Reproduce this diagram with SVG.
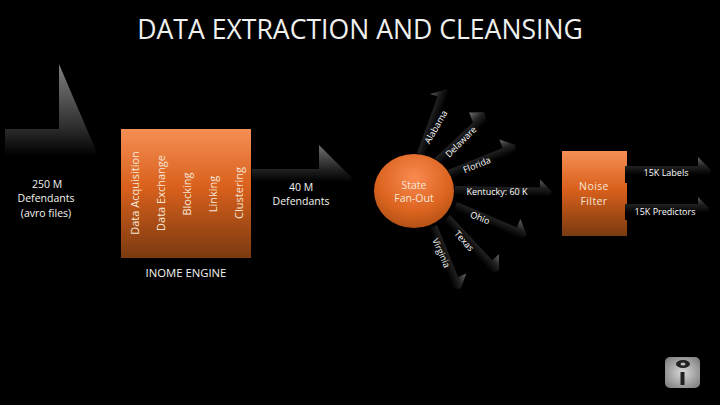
<svg xmlns="http://www.w3.org/2000/svg" width="720" height="405" viewBox="0 0 720 405">
<style>
text{font-family:"Open Sans","Noto Sans","DejaVu Sans",sans-serif;fill:#f4f4f0}
.l{font-size:10.5px;text-anchor:middle}
.o{font-size:10.5px;text-anchor:middle;fill:#f6e6d6}
.v{font-size:11px;text-anchor:middle;fill:#f6e6d6}
.s{font-size:9px;text-anchor:middle;fill:#fff}
.fan{fill:url(#fg)}
</style>
<defs>
<linearGradient id="box" x1="0" y1="0" x2="0" y2="1"><stop offset="0" stop-color="#f58f55"/><stop offset=".45" stop-color="#d9601c"/><stop offset="1" stop-color="#7a3a10"/></linearGradient>
<radialGradient id="ball" cx=".5" cy=".32" r=".75"><stop offset="0" stop-color="#f98a50"/><stop offset=".6" stop-color="#dc6420"/><stop offset="1" stop-color="#a84c12"/></radialGradient>
<linearGradient id="bigUp" gradientUnits="userSpaceOnUse" x1="0" y1="64" x2="0" y2="156"><stop offset="0" stop-color="#808080"/><stop offset=".7" stop-color="#2c2c2c"/><stop offset="1" stop-color="#000"/></linearGradient>
<linearGradient id="bigR" gradientUnits="userSpaceOnUse" x1="0" y1="145" x2="0" y2="182"><stop offset="0" stop-color="#707070"/><stop offset=".65" stop-color="#222"/><stop offset="1" stop-color="#000"/></linearGradient>
<linearGradient id="fg" gradientUnits="userSpaceOnUse" x1="0" y1="-9" x2="0" y2="9"><stop offset="0" stop-color="#686868"/><stop offset=".5" stop-color="#222"/><stop offset="1" stop-color="#000"/></linearGradient>
<radialGradient id="metal" cx=".5" cy=".5" r=".7"><stop offset="0" stop-color="#d8d8d8"/><stop offset="1" stop-color="#777"/></radialGradient>
</defs>
<rect width="720" height="405" fill="#000"/>
<text x="360" y="39" style="font-size:26.6px;text-anchor:middle;fill:#f0f0f0">DATA EXTRACTION AND CLEANSING</text>
<g id="connectors">
<path d="M5 129H59V64L100 160L98 164H5Z" fill="url(#bigUp)"/>
<path d="M252 169H319V145L352 178L350 188H252Z" fill="url(#bigR)"/>
<path class="fan" transform="translate(417 153) rotate(-70)" d="M0 0H60V-8L70 6L66 12H0Z"/>
<path class="fan" transform="translate(435 158) rotate(-43)" d="M0 0H52L56 -10L67 0L62 12H0Z"/>
<path class="fan" transform="translate(448 170) rotate(-22)" d="M0 0H59V-9L72 2L68 12H0Z"/>
<path class="fan" transform="translate(455 186) rotate(1)" d="M0 0H85V-8L97 4L92 12H0Z"/>
<path class="fan" transform="translate(457 202) rotate(23)" d="M0 0H65V-9L77 3L72 12H0Z"/>
<path class="fan" transform="translate(450 215) rotate(47)" d="M0 0H62V-9L74 2L70 12H0Z"/>
<path class="fan" transform="translate(437 225) rotate(68)" d="M0 0H56V-9L68 2L64 12H0Z"/>
</g>
<g id="input"><text class="l" x="47" y="188">250 M</text><text class="l" x="46" y="202">Defendants</text><text class="l" x="46" y="217">(avro files)</text></g>
<g id="engine">
<rect x="121" y="129" width="130" height="129" fill="url(#box)"/>
<text class="v" transform="translate(139 193) rotate(-90)">Data Acquisition</text>
<text class="v" transform="translate(165 193) rotate(-90)">Data Exchange</text>
<text class="v" transform="translate(191 194) rotate(-90)">Blocking</text>
<text class="v" transform="translate(217 194) rotate(-90)">Linking</text>
<text class="v" transform="translate(243 193) rotate(-90)">Clustering</text>
<text x="186" y="277" style="font-size:11.3px;text-anchor:middle">INOME ENGINE</text>
</g>
<g id="defendants"><text class="l" x="301" y="191">40 M</text><text class="l" x="301" y="205">Defendants</text></g>
<g id="fanout"><ellipse cx="414" cy="191" rx="40" ry="37" fill="url(#ball)"/><text class="o" x="414" y="189">State</text><text class="o" x="414" y="202">Fan-Out</text></g>
<g id="states">
<text class="s" y="3" transform="translate(436 127) rotate(-60)">Alabama</text>
<text class="s" y="3" transform="translate(461 142) rotate(-45)">Delaware</text>
<text class="s" y="3" transform="translate(477 165) rotate(-22)">Florida</text>
<text class="s" x="497" y="195">Kentucky: 60 K</text>
<text class="s" y="3" transform="translate(480 218) rotate(22)">Ohio</text>
<text class="s" y="3" transform="translate(464 241) rotate(48)">Texas</text>
<text class="s" y="3" transform="translate(441 253) rotate(66)">Virginia</text>
</g>
<g id="noise"><rect x="562" y="151" width="65" height="85" fill="url(#box)"/><text class="o" x="594" y="190" style="letter-spacing:.4px">Noise</text><text class="o" x="594" y="205" style="letter-spacing:.4px">Filter</text></g>
<g id="outputs">
<path class="fan" transform="translate(625 166)" d="M0 0H73V-9L86 4L82 17H0Z"/>
<path class="fan" transform="translate(625 204)" d="M0 0H73V-7L84 4L80 16H0Z"/>
<text class="s" x="666" y="176">15K Labels</text><text class="s" x="665" y="215">15K Predictors</text></g>
<g id="logo"><rect x="665" y="357" width="35" height="31" rx="5" fill="url(#metal)"/><ellipse cx="683" cy="364" rx="7" ry="4" fill="#222"/><ellipse cx="683" cy="364" rx="2.5" ry="1.6" fill="#bbb"/><rect x="680.500" y="372" width="4" height="13" fill="#222"/></g>
</svg>
